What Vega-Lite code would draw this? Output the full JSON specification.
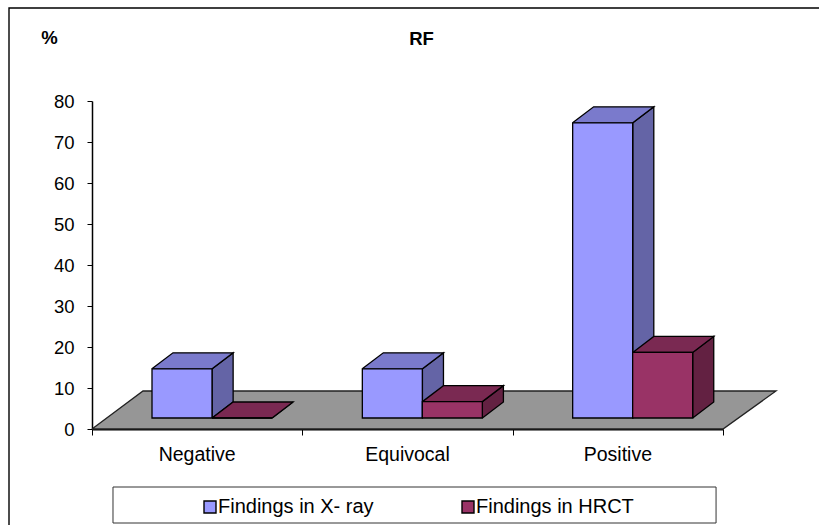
{
"$schema":"https://vega.github.io/schema/vega-lite/v6.json",
"width":631,"height":328,
"autosize":{"type":"none"},
"padding":{"left":92,"top":101,"right":96,"bottom":96},
"background":"#ffffff",
"config":{"view":{"stroke":null},"font":"Liberation Sans"},
"title":{"text":"RF","font":"Liberation Sans","fontSize":18.5,"fontWeight":"bold","color":"#000000","anchor":"middle","frame":"group","dx":14,"offset":-43},
"datasets":{
"bars":[
{"category":"Negative","series":"Findings in X- ray","value":12},
{"category":"Negative","series":"Findings in HRCT","value":0},
{"category":"Equivocal","series":"Findings in X- ray","value":12},
{"category":"Equivocal","series":"Findings in HRCT","value":4},
{"category":"Positive","series":"Findings in X- ray","value":72},
{"category":"Positive","series":"Findings in HRCT","value":16}
],
"faces":[
{"part":"frame","face":"frame","i":0,"x":-0.3946,"y":-24.6},
{"part":"frame","face":"frame","i":1,"x":-0.3946,"y":102.7},
{"part":"frame","face":"frame","i":2,"x":3.5,"y":102.7},
{"part":"box","face":"box","i":0,"x":0.0998,"y":-14.15},
{"part":"box","face":"box","i":1,"x":2.967,"y":-14.15},
{"part":"box","face":"box","i":2,"x":2.967,"y":-22.93},
{"part":"box","face":"box","i":3,"x":0.0998,"y":-22.93},
{"part":"box","face":"box","i":4,"x":0.0998,"y":-14.15},
{"part":"floor","face":"floor","i":0,"x":0,"y":0},
{"part":"floor","face":"floor","i":1,"x":0.2425,"y":9.27},
{"part":"floor","face":"floor","i":2,"x":3.252,"y":9.27},
{"part":"floor","face":"floor","i":3,"x":3,"y":0},
{"part":"floor","face":"floor","i":4,"x":0,"y":0},

{"part":"xSide","face":"negX","i":0,"x":0.571,"y":2.68},
{"part":"xSide","face":"negX","i":1,"x":0.671,"y":6.58},
{"part":"xSide","face":"negX","i":2,"x":0.671,"y":18.58},
{"part":"xSide","face":"negX","i":3,"x":0.571,"y":14.68},
{"part":"xSide","face":"negX","i":4,"x":0.571,"y":2.68},
{"part":"xSide","face":"eqX","i":0,"x":1.571,"y":2.68},
{"part":"xSide","face":"eqX","i":1,"x":1.671,"y":6.58},
{"part":"xSide","face":"eqX","i":2,"x":1.671,"y":18.58},
{"part":"xSide","face":"eqX","i":3,"x":1.571,"y":14.68},
{"part":"xSide","face":"eqX","i":4,"x":1.571,"y":2.68},
{"part":"xSide","face":"posX","i":0,"x":2.571,"y":2.68},
{"part":"xSide","face":"posX","i":1,"x":2.671,"y":6.58},
{"part":"xSide","face":"posX","i":2,"x":2.671,"y":78.58},
{"part":"xSide","face":"posX","i":3,"x":2.571,"y":74.68},
{"part":"xSide","face":"posX","i":4,"x":2.571,"y":2.68},

{"part":"xTop","face":"negXt","i":0,"x":0.285,"y":14.68},
{"part":"xTop","face":"negXt","i":1,"x":0.385,"y":18.58},
{"part":"xTop","face":"negXt","i":2,"x":0.671,"y":18.58},
{"part":"xTop","face":"negXt","i":3,"x":0.571,"y":14.68},
{"part":"xTop","face":"negXt","i":4,"x":0.285,"y":14.68},
{"part":"xTop","face":"eqXt","i":0,"x":1.285,"y":14.68},
{"part":"xTop","face":"eqXt","i":1,"x":1.385,"y":18.58},
{"part":"xTop","face":"eqXt","i":2,"x":1.671,"y":18.58},
{"part":"xTop","face":"eqXt","i":3,"x":1.571,"y":14.68},
{"part":"xTop","face":"eqXt","i":4,"x":1.285,"y":14.68},
{"part":"xTop","face":"posXt","i":0,"x":2.285,"y":74.68},
{"part":"xTop","face":"posXt","i":1,"x":2.385,"y":78.58},
{"part":"xTop","face":"posXt","i":2,"x":2.671,"y":78.58},
{"part":"xTop","face":"posXt","i":3,"x":2.571,"y":74.68},
{"part":"xTop","face":"posXt","i":4,"x":2.285,"y":74.68},

{"part":"hSide","face":"negH","i":0,"x":0.856,"y":2.68},
{"part":"hSide","face":"negH","i":1,"x":0.956,"y":6.58},
{"part":"hSide","face":"eqH","i":0,"x":1.856,"y":2.68},
{"part":"hSide","face":"eqH","i":1,"x":1.956,"y":6.58},
{"part":"hSide","face":"eqH","i":2,"x":1.956,"y":10.58},
{"part":"hSide","face":"eqH","i":3,"x":1.856,"y":6.68},
{"part":"hSide","face":"eqH","i":4,"x":1.856,"y":2.68},
{"part":"hSide","face":"posH","i":0,"x":2.856,"y":2.68},
{"part":"hSide","face":"posH","i":1,"x":2.956,"y":6.58},
{"part":"hSide","face":"posH","i":2,"x":2.956,"y":22.58},
{"part":"hSide","face":"posH","i":3,"x":2.856,"y":18.68},
{"part":"hSide","face":"posH","i":4,"x":2.856,"y":2.68},

{"part":"hTop","face":"negHt","i":0,"x":0.571,"y":2.68},
{"part":"hTop","face":"negHt","i":1,"x":0.671,"y":6.58},
{"part":"hTop","face":"negHt","i":2,"x":0.956,"y":6.58},
{"part":"hTop","face":"negHt","i":3,"x":0.856,"y":2.68},
{"part":"hTop","face":"negHt","i":4,"x":0.571,"y":2.68},
{"part":"hTop","face":"eqHt","i":0,"x":1.571,"y":6.68},
{"part":"hTop","face":"eqHt","i":1,"x":1.671,"y":10.58},
{"part":"hTop","face":"eqHt","i":2,"x":1.956,"y":10.58},
{"part":"hTop","face":"eqHt","i":3,"x":1.856,"y":6.68},
{"part":"hTop","face":"eqHt","i":4,"x":1.571,"y":6.68},
{"part":"hTop","face":"posHt","i":0,"x":2.571,"y":18.68},
{"part":"hTop","face":"posHt","i":1,"x":2.671,"y":22.58},
{"part":"hTop","face":"posHt","i":2,"x":2.956,"y":22.58},
{"part":"hTop","face":"posHt","i":3,"x":2.856,"y":18.68},
{"part":"hTop","face":"posHt","i":4,"x":2.571,"y":18.68}
]
},
"layer":[
{
"data":{"name":"faces"},
"encoding":{
"x":{"field":"x","type":"quantitative","scale":{"domain":[0,3],"nice":false,"zero":false},
"axis":{"orient":"bottom","title":null,"values":[0,1,2,3],"labels":false,"grid":false,"domainColor":"#000000","domainWidth":1.8,"tickColor":"#000000","tickWidth":1,"tickSize":6}},
"y":{"field":"y","type":"quantitative","scale":{"domain":[0,80],"nice":false,"zero":false},
"axis":{"title":"%","titleAngle":0,"titleX":-43,"titleY":-58,"titleAlign":"center","titleBaseline":"alphabetic","titleFont":"Liberation Sans","titleFontSize":18.5,"titleFontWeight":"bold","titleColor":"#000000","values":[0,10,20,30,40,50,60,70,80],"grid":false,"domainColor":"#000000","domainWidth":1.5,"tickColor":"#000000","tickWidth":1,"tickSize":5,"labelFont":"Liberation Sans","labelFontSize":18.5,"labelColor":"#000000","labelPadding":13}},
"detail":{"field":"face","type":"nominal"},
"order":{"field":"i","type":"quantitative"}
},
"layer":[
{"transform":[{"filter":"datum.part==='frame'"}],"mark":{"type":"line","stroke":"#000000","strokeWidth":1.4,"clip":false}},
{"transform":[{"filter":"datum.part==='box'"}],"mark":{"type":"line","fill":"#ffffff","stroke":"#333333","strokeWidth":1,"clip":false}},
{"transform":[{"filter":"datum.part==='floor'"}],"mark":{"type":"line","fill":"#969696","stroke":"#222222","strokeWidth":1.3,"clip":false}},
{"transform":[{"filter":"datum.part==='xSide'"}],"mark":{"type":"line","fill":"#6464a6","stroke":"#000000","strokeWidth":1.3,"clip":false}},
{"transform":[{"filter":"datum.part==='xTop'"}],"mark":{"type":"line","fill":"#7a7acc","stroke":"#000000","strokeWidth":1.3,"clip":false}},
{"transform":[{"filter":"datum.part==='hSide'"}],"mark":{"type":"line","fill":"#632142","stroke":"#000000","strokeWidth":1.3,"clip":false}},
{"transform":[{"filter":"datum.part==='hTop'"}],"mark":{"type":"line","fill":"#7a2952","stroke":"#000000","strokeWidth":1.3,"clip":false}}
]
},
{
"data":{"name":"bars"},
"mark":{"type":"bar","stroke":"#000000","strokeWidth":1.3},
"encoding":{
"x":{"field":"category","type":"nominal","sort":["Negative","Equivocal","Positive"],"scale":{"domain":["Negative","Equivocal","Positive"],"paddingInner":0,"paddingOuter":0},
"axis":{"orient":"bottom","title":null,"labelAngle":0,"ticks":false,"domain":false,"grid":false,"labelFont":"Liberation Sans","labelFontSize":19.5,"labelColor":"#000000","labelPadding":16}},
"xOffset":{"field":"series","type":"nominal","scale":{"domain":["Findings in X- ray","Findings in HRCT"],"range":[60,180],"paddingInner":0,"paddingOuter":0}},
"y":{"field":"value","type":"quantitative","stack":null,"scale":{"domain":[-2.68,77.32],"nice":false,"zero":false},"axis":null},
"fill":{"field":"series","type":"nominal","scale":{"domain":["Findings in X- ray","Findings in HRCT"],"range":["#9999ff","#993366"]},
"legend":{"title":null,"orient":"none","legendX":108,"legendY":396,"direction":"horizontal","columns":2,"padding":0,"columnPadding":84,"symbolType":"square","symbolSize":144,"symbolStrokeColor":"#000000","symbolStrokeWidth":1.4,"labelFont":"Liberation Sans","labelFontSize":20,"labelColor":"#000000","labelOffset":-2,"labelLimit":300}}
}
}
],
"resolve":{"scale":{"x":"independent","y":"independent"}}
}
